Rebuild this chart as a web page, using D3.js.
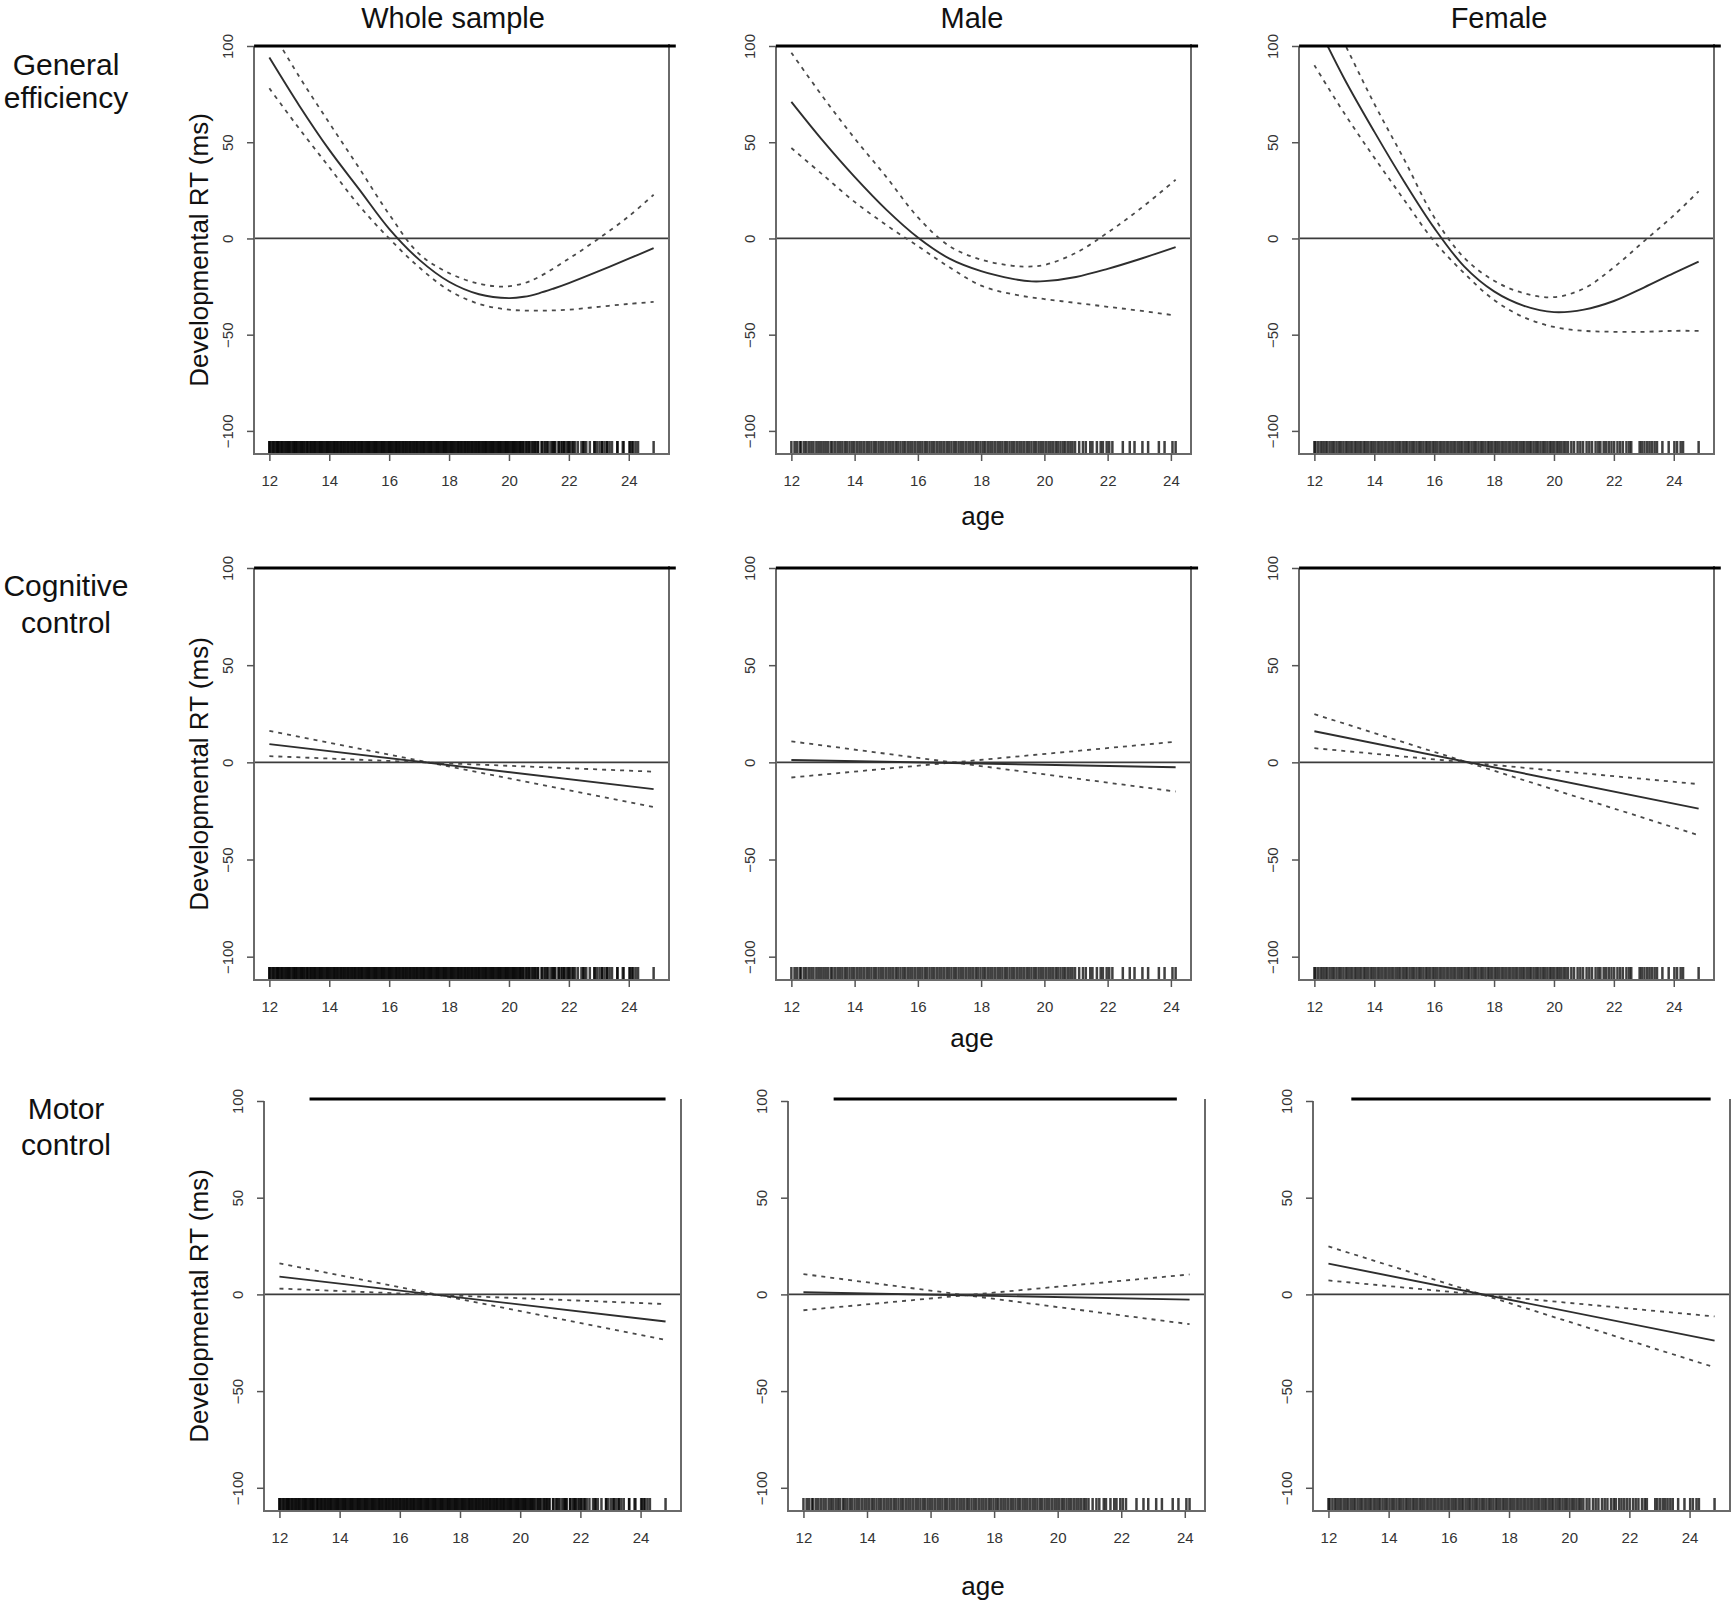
<!DOCTYPE html>
<html><head><meta charset="utf-8">
<script src="https://cdn.jsdelivr.net/npm/d3@7"></script>
<style>body{margin:0;background:#fff}svg{display:block}</style>
</head><body><svg id="chart" width="1732" height="1605"></svg>
<script>
// ---------------- data ----------------
const colTitles = ["Whole sample", "Male", "Female"];
const rowTitles = [["General", "efficiency"], ["Cognitive", "control"], ["Motor", "control"]];
const xTickValues = [12, 14, 16, 18, 20, 22, 24];
const yTickValues = [100, 50, 0, -50, -100];
const yLimits = [-112, 100];
const xLabel = "age";
const yLabel = "Developmental RT (ms)";

// rug: participant ages
const maleAges = [12.00,12.10,12.17,12.26,12.31,12.40,12.47,12.55,12.63,12.70,12.79,12.86,12.93,13.01,13.08,13.15,13.24,13.30,13.38,13.46,13.53,13.61,13.69,13.76,13.84,13.92,13.99,14.07,14.15,14.22,14.30,14.38,14.45,14.53,14.61,14.68,14.76,14.84,14.91,14.99,15.07,15.14,15.22,15.30,15.37,15.45,15.53,15.60,15.68,15.76,15.83,15.91,15.99,16.06,16.14,16.22,16.29,16.37,16.45,16.52,16.60,16.68,16.75,16.83,16.91,16.98,17.06,17.14,17.21,17.29,17.37,17.44,17.52,17.60,17.67,17.75,17.83,17.90,17.98,18.06,18.13,18.21,18.29,18.36,18.44,18.52,18.59,18.67,18.75,18.82,18.90,18.98,19.05,19.13,19.21,19.28,19.36,19.44,19.51,19.59,19.67,19.74,19.82,19.90,19.97,20.05,20.13,20.20,20.28,20.36,20.43,20.51,20.59,20.66,20.74,20.82,20.89,20.97,21.10,21.22,21.31,21.45,21.52,21.66,21.78,21.85,21.97,22.05,22.15,22.48,22.70,22.85,23.10,23.28,23.62,23.80,24.05,24.15];
const femaleAges = [12.00,12.04,12.13,12.21,12.28,12.36,12.43,12.51,12.59,12.66,12.74,12.82,12.89,12.97,13.05,13.12,13.20,13.27,13.35,13.42,13.50,13.57,13.65,13.72,13.80,13.88,13.95,14.03,14.11,14.18,14.26,14.34,14.41,14.49,14.57,14.64,14.72,14.80,14.87,14.95,15.03,15.10,15.18,15.26,15.33,15.41,15.49,15.56,15.64,15.72,15.79,15.87,15.95,16.02,16.10,16.18,16.25,16.33,16.41,16.48,16.56,16.64,16.71,16.79,16.87,16.94,17.02,17.10,17.17,17.25,17.33,17.40,17.48,17.56,17.63,17.71,17.79,17.86,17.94,18.02,18.09,18.17,18.25,18.32,18.40,18.48,18.55,18.63,18.71,18.78,18.86,18.94,19.01,19.09,19.17,19.24,19.32,19.40,19.47,19.55,19.63,19.70,19.78,19.86,19.93,20.01,20.09,20.16,20.24,20.32,20.39,20.47,20.58,20.67,20.79,20.88,20.97,21.09,21.18,21.27,21.39,21.48,21.55,21.66,21.74,21.83,21.92,22.01,22.12,22.21,22.30,22.42,22.51,22.58,22.86,22.93,23.02,23.11,23.19,23.27,23.36,23.44,23.62,23.83,24.02,24.11,24.23,24.31,24.83];
const wholeAges = maleAges.concat(femaleAges);

// General efficiency: smooth fit and confidence bounds, [age, ms]
const geWholeFit   = [[12,94],[13,69],[14,46],[15,25.5],[16,5],[17,-11],[18,-22.5],[19,-29],[20,-31],[20.5,-30.3],[21,-28.5],[21.5,-26],[22,-23.2],[23,-17],[24,-10.5],[24.83,-5]];
const geWholeUpper = [[12,110],[13,84],[14,60],[15,36.5],[16,12.5],[17,-8],[18,-18],[19,-23.5],[19.8,-25],[20.5,-23.3],[21,-20],[22,-10.5],[23,0],[24,11.5],[24.83,22.7]];
const geWholeLower = [[12,78],[13,57],[14,37],[15,17],[16,0],[17,-15],[18,-27],[19,-34],[20,-37],[21,-37.5],[22,-37],[23,-35.5],[24,-34],[24.83,-33]];

const geMaleFit   = [[12,71],[13,50.7],[14,32],[15,15],[16,0.5],[17,-10.5],[18,-17],[19,-21],[19.6,-22.3],[20,-22.2],[21,-20],[22,-15.8],[23,-10.8],[24.15,-4.5]];
const geMaleUpper = [[12,96.5],[13,73.5],[14,52],[15,32],[16,11],[17,-4],[18,-11],[19,-14.2],[19.5,-14.6],[20,-13.8],[21,-7.5],[22,3],[23,15],[24.15,30.5]];
const geMaleLower = [[12,47],[13,33],[14,19],[15,7],[16,-4],[17,-15],[18,-24.5],[19,-29],[20,-31.5],[21,-33.5],[22,-35.5],[23,-37.5],[24.15,-40]];

const geFemaleFit   = [[12,114],[13,83],[14,55.5],[15,29.5],[16,5.5],[17,-14.5],[18,-27.5],[19,-35],[20,-38.3],[21,-37],[22,-32.5],[23,-25.5],[24,-18],[24.83,-12]];
const geFemaleUpper = [[12,133],[13,101.5],[14,70],[15,41],[16,11],[17,-10],[18,-22],[19,-28.5],[20,-30.5],[21,-26],[22,-15],[23,-1.5],[24,12],[24.83,24.5]];
const geFemaleLower = [[12,90],[13,65],[14,42],[15,20],[16,-1.5],[17,-18],[18,-32],[19,-41],[20,-46],[21,-48],[22,-48.5],[23,-48.5],[24,-48],[24.83,-48]];

// Cognitive control: linear fit and bounds
const ccWholeFit = [[12,9.4],[24.83,-13.8]];
const ccWholeA   = [[12,16.2],[24.83,-23]];
const ccWholeB   = [[12,3.2],[24.83,-4.8]];
const ccMaleFit  = [[12,1.2],[24.15,-2.5]];
const ccMaleA    = [[12,10.8],[24.15,-15]];
const ccMaleB    = [[12,-7.8],[24.15,10.6]];
const ccFemaleFit = [[12,16],[24.83,-23.8]];
const ccFemaleA   = [[12,24.8],[24.83,-37.5]];
const ccFemaleB   = [[12,7.3],[24.83,-11.2]];

// Motor control: linear fit and bounds
const mcWholeFit = [[12,9.2],[24.83,-14]];
const mcWholeA   = [[12,16],[24.83,-23.5]];
const mcWholeB   = [[12,3],[24.83,-5]];
const mcMaleFit  = [[12,1.1],[24.15,-2.7]];
const mcMaleA    = [[12,10.5],[24.15,-15.4]];
const mcMaleB    = [[12,-8.2],[24.15,10.3]];
const mcFemaleFit = [[12,15.9],[24.83,-23.9]];
const mcFemaleA   = [[12,24.8],[24.83,-37.7]];
const mcFemaleB   = [[12,7.2],[24.83,-11.4]];

// thick line at 100 (age range)
const geSig = [[11.49,25.57],[11.51,24.86],[11.49,25.57]];
const ccSig = [[11.49,25.57],[11.51,24.86],[11.49,25.57]];
const mcSig = [[13.0,24.83],[12.95,23.75],[12.76,24.7]];

// ---------------- assembly ----------------
const agesByCol = [wholeAges, maleAges, femaleAges];
const rows = [
  {curved:true, sig:geSig, series:[[geWholeFit,geWholeUpper,geWholeLower],[geMaleFit,geMaleUpper,geMaleLower],[geFemaleFit,geFemaleUpper,geFemaleLower]]},
  {curved:false, sig:ccSig, series:[[ccWholeFit,ccWholeA,ccWholeB],[ccMaleFit,ccMaleA,ccMaleB],[ccFemaleFit,ccFemaleA,ccFemaleB]]},
  {curved:false, sig:mcSig, series:[[mcWholeFit,mcWholeA,mcWholeB],[mcMaleFit,mcMaleA,mcMaleB],[mcFemaleFit,mcFemaleA,mcFemaleB]]}
];

const svg = d3.select("#chart");
svg.append("rect").attr("width",1732).attr("height",1605).attr("fill","#fff");
const FONT = "'Liberation Sans', Arial, Helvetica, sans-serif";

const panelLeft = [[254,776,1299],[254,776,1299],[264,788,1313]];
const panelWidth = [415,415,417];
const panelTop = [46,568,1101];
const panelBottom = [454,980,1511];

const defs = svg.append("defs");

rows.forEach((row, r) => {
  for (let c = 0; c < 3; c++) {
    const L = panelLeft[r][c], W = panelWidth[r], T = panelTop[r], B = panelBottom[r];
    const ages = agesByCol[c];
    const ext = d3.extent(ages);
    const pad = 0.04 * (ext[1] - ext[0]);
    const x = d3.scaleLinear().domain([ext[0] - pad, ext[1] + pad]).range([L, L + W]);
    const y = d3.scaleLinear().domain(yLimits).range([B, T]);
    const g = svg.append("g");
    const clipId = `clip-${r}-${c}`;
    defs.append("clipPath").attr("id", clipId).append("rect")
      .attr("x", L).attr("y", T).attr("width", W).attr("height", B - T);

    // zero line
    g.append("line").attr("x1", L).attr("x2", L + W).attr("y1", y(0)).attr("y2", y(0))
      .attr("stroke", "#3c3c3c").attr("stroke-width", 1.8);

    const line = d3.line().x(d => x(d[0])).y(d => y(d[1]))
      .curve(row.curved ? d3.curveCatmullRom.alpha(0.5) : d3.curveLinear);
    const [fit, up, lo] = row.series[c];
    const lg = g.append("g").attr("clip-path", `url(#${clipId})`).attr("fill", "none");
    [up, lo].forEach(s => lg.append("path").attr("d", line(s))
      .attr("stroke", "#4a4a4a").attr("stroke-width", 1.8).attr("stroke-dasharray", "4,5"));
    lg.append("path").attr("d", line(fit)).attr("stroke", "#2e2e2e").attr("stroke-width", 1.9);

    // rug
    g.append("g").selectAll("line").data(ages).join("line")
      .attr("x1", d => x(d)).attr("x2", d => x(d)).attr("y1", B).attr("y2", B - 13)
      .attr("stroke", "#000").attr("stroke-width", 2.5).attr("stroke-opacity", 0.75);

    // box (left, bottom, right)
    g.append("path").attr("d", `M${L},${T}V${B}H${L + W}V${T - 2}`)
      .attr("fill", "none").attr("stroke", "#6a6a6a").attr("stroke-width", 2);

    // thick line at 100
    const sg = row.sig[c];
    const sy = y(100) - (r === 2 ? 2 : 0);
    g.append("line").attr("x1", x(sg[0])).attr("x2", x(sg[1])).attr("y1", sy).attr("y2", sy)
      .attr("stroke", "#000").attr("stroke-width", 2.8);

    // axes
    const ya = g.append("g").attr("transform", `translate(${L},0)`)
      .call(d3.axisLeft(y).tickValues(yTickValues).tickSize(7).tickFormat(d => d3.format("")(d).replace("-", "\u2212")));
    ya.select(".domain").remove();
    ya.selectAll("line").attr("stroke", "#555").attr("stroke-width", 1.5);
    ya.selectAll("text").attr("x", null).attr("dy", "0.35em")
      .attr("transform", "translate(-26,0) rotate(-90)").attr("text-anchor", "middle")
      .attr("font-family", FONT).attr("font-size", 15).attr("fill", "#333");

    const xa = g.append("g").attr("transform", `translate(0,${B})`)
      .call(d3.axisBottom(x).tickValues(xTickValues).tickSize(7));
    xa.select(".domain").remove();
    xa.selectAll("line").attr("stroke", "#555").attr("stroke-width", 1.5);
    xa.selectAll("text").attr("y", 27).attr("dy", "0.35em")
      .attr("font-family", FONT).attr("font-size", 15).attr("fill", "#333");
  }
});

// column titles
const titleX = [453, 972, 1499];
colTitles.forEach((t, i) => svg.append("text").attr("x", titleX[i]).attr("y", 28)
  .attr("text-anchor", "middle").attr("font-family", FONT).attr("font-size", 29).attr("fill", "#111").text(t));

// row titles
const rowBase = [[75,108],[596,633],[1119,1155]];
rowTitles.forEach((lines, r) => lines.forEach((t, k) => svg.append("text")
  .attr("x", 66).attr("y", rowBase[r][k]).attr("text-anchor", "middle")
  .attr("font-family", FONT).attr("font-size", 30).attr("fill", "#111").text(t)));

// y labels
panelTop.forEach((T, r) => {
  const cy = (T + panelBottom[r]) / 2;
  svg.append("text").attr("transform", `translate(199,${cy}) rotate(-90)`).attr("dy", "0.35em")
    .attr("text-anchor", "middle").attr("font-family", FONT).attr("font-size", 26).attr("fill", "#111").text(yLabel);
});

// x labels
const ageLabelPos = [[983,525],[972,1047],[983,1595]];
ageLabelPos.forEach(p => svg.append("text").attr("x", p[0]).attr("y", p[1]).attr("text-anchor", "middle")
  .attr("font-family", FONT).attr("font-size", 26).attr("fill", "#111").text(xLabel));
</script></body></html>
